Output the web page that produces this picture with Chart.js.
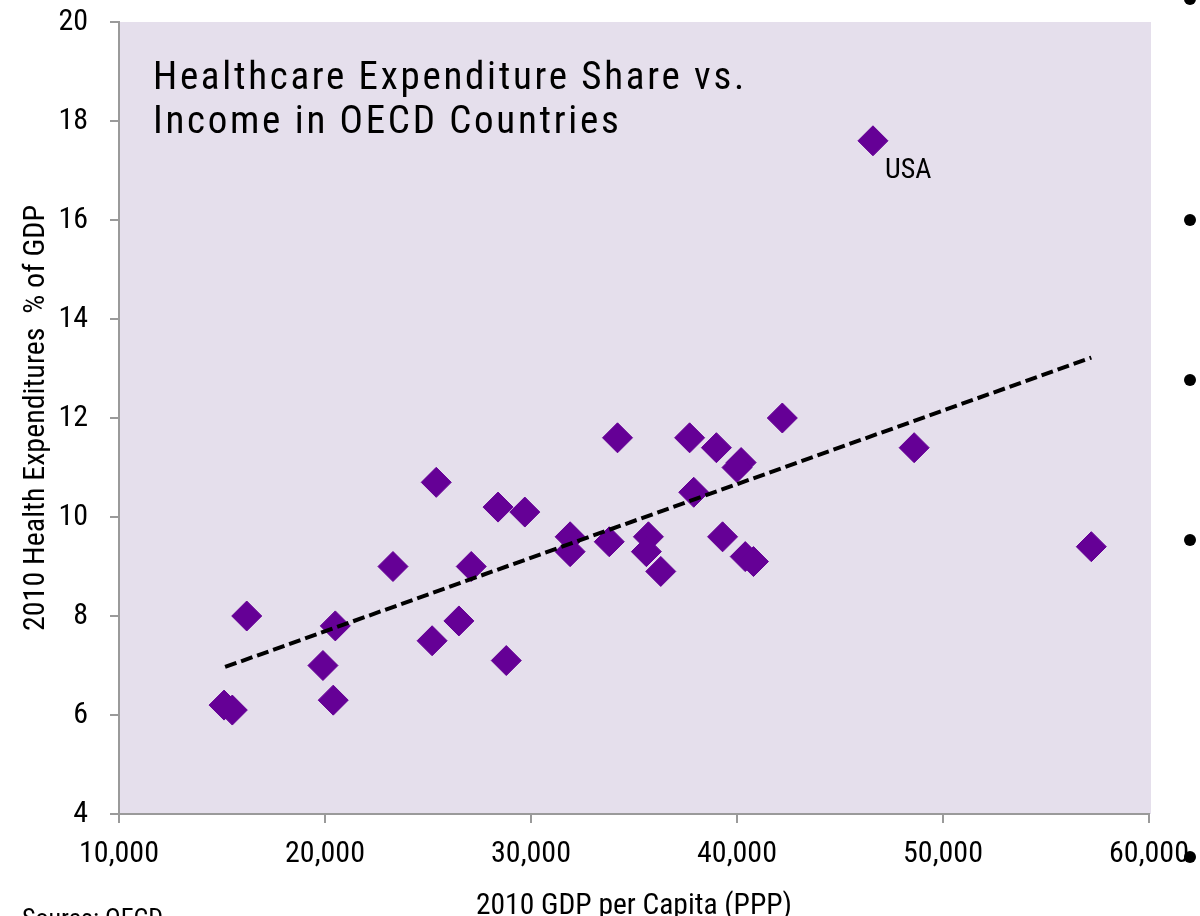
<!DOCTYPE html>
<html>
<head>
<meta charset="utf-8">
<script src="https://cdn.jsdelivr.net/npm/chart.js@4.4.1/dist/chart.umd.min.js"></script>
<style>
    body { margin: 0; background: #ffffff; overflow: hidden; }
    #wrap { position: relative; width: 1200px; height: 916px; overflow: hidden; }
    .bullet { position: absolute; width: 12px; height: 12px; border-radius: 50%; background: #000; }
    #source { position: absolute; left: 22px; top: 905px; font: 26px 'Roboto Condensed', sans-serif; line-height: 1; color: #000; }
</style>
</head>
<body>
<div id="wrap">
    <canvas id="healthChart" width="1200" height="916"></canvas>
    <div class="bullet" style="left:1184px; top:-7px;"></div>
    <div class="bullet" style="left:1184px; top:214px;"></div>
    <div class="bullet" style="left:1184px; top:374px;"></div>
    <div class="bullet" style="left:1184px; top:534px;"></div>
    <div class="bullet" style="left:1184px; top:851px;"></div>
    <div id="source">Source: OECD</div>
</div>
<script>
// Data
const gdpPerCapita = [15100, 15500, 16200, 19900, 20400, 20500, 23300, 25200, 25400, 26500, 27100,
    28400, 28800, 29700, 31900, 31900, 33800, 34200, 35700, 35600, 36300, 37700,
    37900, 39000, 39300, 40200, 40000, 40400, 40800, 42200, 46600, 48600, 57200];
const healthShare = [6.2, 6.1, 8.0, 7.0, 6.3, 7.8, 9.0, 7.5, 10.7, 7.9, 9.0,
    10.2, 7.1, 10.1, 9.6, 9.3, 9.5, 11.6, 9.6, 9.3, 8.9, 11.6,
    10.5, 11.4, 9.6, 11.1, 11.0, 9.2, 9.1, 12.0, 17.6, 11.4, 9.4];
const countryLabels = ['', '', '', '', '', '', '', '', '', '', '',
    '', '', '', '', '', '', '', '', '', '', '',
    '', '', '', '', '', '', '', '', 'USA', '', ''];

// Trend line end points
const trendX = [15150, 57200];
const trendY = [6.97, 13.22];

const titleLines = ['Healthcare Expenditure Share vs.', 'Income in OECD Countries'];
const xAxisTitle = '2010 GDP per Capita (PPP)';
const yAxisTitle = '2010 Health Expenditures  % of GDP';

const COND = "'Roboto Condensed', 'Liberation Sans', sans-serif";
const AXIS_GREY = '#9a9a9a';
const PURPLE = '#650096';

// Plot background + title + point labels
const decorPlugin = {
    id: 'decor',
    beforeDraw(chart) {
        const { ctx, chartArea } = chart;
        ctx.save();
        ctx.fillStyle = '#e5dfec';
        ctx.fillRect(chartArea.left, chartArea.top, chartArea.right - chartArea.left + 2, chartArea.bottom - chartArea.top);
        ctx.restore();
    },
    afterDatasetsDraw(chart) {
        const { ctx, chartArea } = chart;
        ctx.save();
        ctx.fillStyle = '#000';
        ctx.textBaseline = 'alphabetic';
        ctx.textAlign = 'left';
        ctx.font = '39px ' + COND;
        ctx.letterSpacing = '2.7px';
        titleLines.forEach((line, i) => {
            ctx.fillText(line, chartArea.left + 34, chartArea.top + 67 + i * 44);
        });
        ctx.letterSpacing = '0px';

        // label points that have a name
        const meta = chart.getDatasetMeta(1);
        ctx.font = '28px ' + COND;
        countryLabels.forEach((name, i) => {
            if (!name) return;
            const pt = meta.data[i];
            ctx.fillText(name, pt.x + 12, pt.y + 37);
        });
        ctx.restore();
    }
};

const ctx = document.getElementById('healthChart').getContext('2d');

function drawChart() {
    new Chart(ctx, {
        type: 'scatter',
        data: {
            datasets: [
                {
                    label: 'Trend',
                    data: trendX.map((x, i) => ({ x: x, y: trendY[i] })),
                    showLine: true,
                    borderColor: '#000',
                    borderWidth: 4,
                    borderDash: [12, 5],
                    pointRadius: 0,
                    order: 0
                },
                {
                    label: 'OECD countries',
                    data: gdpPerCapita.map((x, i) => ({ x: x, y: healthShare[i] })),
                    pointStyle: 'rectRot',
                    pointRadius: 15,
                    backgroundColor: PURPLE,
                    borderColor: PURPLE,
                    borderWidth: 1,
                    order: 1
                }
            ]
        },
        options: {
            responsive: false,
            animation: false,
            layout: {
                padding: { top: 22, right: 51, left: 0, bottom: 0 }
            },
            plugins: {
                legend: { display: false },
                tooltip: { enabled: false }
            },
            scales: {
                x: {
                    type: 'linear',
                    min: 10000,
                    max: 60000,
                    afterFit: (scale) => {
                        scale.height = 102;
                        scale.paddingLeft = 0;
                        scale.paddingRight = 0;
                    },
                    border: { display: true, color: AXIS_GREY, width: 2 },
                    grid: {
                        drawOnChartArea: false,
                        drawTicks: true,
                        tickLength: 9,
                        color: AXIS_GREY,
                        lineWidth: 2
                    },
                    ticks: {
                        stepSize: 10000,
                        padding: 13,
                        color: '#000',
                        font: { family: COND, size: 30 },
                        maxRotation: 0,
                        callback: (value) => value.toLocaleString('en-US')
                    },
                    title: {
                        display: true,
                        text: xAxisTitle,
                        color: '#000',
                        font: { family: COND, size: 29.5, lineHeight: 1 },
                        padding: { top: 0, bottom: -5 }
                    }
                },
                y: {
                    type: 'linear',
                    min: 4,
                    max: 20,
                    afterFit: (scale) => {
                        scale.width = 119;
                        scale.paddingTop = 0;
                        scale.paddingBottom = 0;
                    },
                    border: { display: true, color: AXIS_GREY, width: 2 },
                    grid: {
                        drawOnChartArea: false,
                        drawTicks: true,
                        tickLength: 9,
                        color: AXIS_GREY,
                        lineWidth: 2
                    },
                    ticks: {
                        stepSize: 2,
                        padding: 22,
                        color: '#000',
                        font: { family: COND, size: 30 }
                    },
                    title: {
                        display: true,
                        text: yAxisTitle,
                        color: '#000',
                        font: { family: COND, size: 30, lineHeight: 1 },
                        padding: { top: 21, bottom: 0 }
                    }
                }
            }
        },
        plugins: [decorPlugin]
    });
}

// make sure the condensed face is ready before the canvas text is drawn
document.fonts.load('30px "Roboto Condensed"').then(drawChart, drawChart);
</script>
</body>
</html>
